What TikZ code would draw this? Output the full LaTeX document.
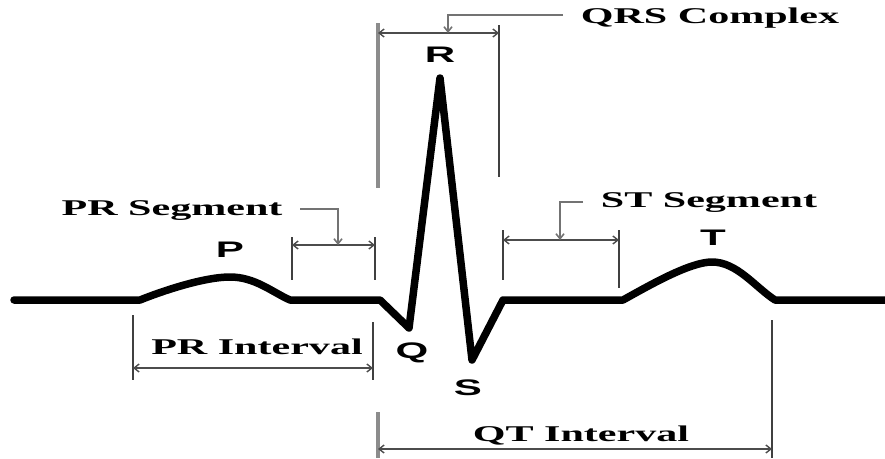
\documentclass[tikz,border=0pt]{standalone}
\usepackage{fontspec}
\usepackage{graphicx}
\setmainfont{Liberation Serif}
\newfontfamily\lettersf{Liberation Sans}
\usetikzlibrary{arrows.meta}
\newcommand\widetxt[1]{\scalebox{1.87}[1]{#1}}
\tikzset{
  x=1pt, y=-1pt,
  trace/.style={line width=7.5pt, line join=round, line cap=round, black},
  extline/.style={line width=2.6pt, black!75},
  greyext/.style={line width=4pt, black!45},
  dimline/.style={line width=1.4pt, black!70, {Straight Barb[length=5pt,width=8pt]}-{Straight Barb[length=5pt,width=8pt]}},
  pointer/.style={line width=1.6pt, black!55, -{Straight Barb[length=5pt,width=8pt]}},
  lbl/.style={inner sep=0pt, font=\fontsize{22.5}{24}\selectfont\bfseries},
  wave/.style={inner sep=0pt, font=\fontsize{22.5}{24}\selectfont\lettersf\bfseries}
}
\begin{document}
\begin{tikzpicture}
\useasboundingbox (0,0) rectangle (885,458);
% ECG trace
\draw[trace] (14,300) -- (140,300)
  .. controls (165,290) and (205,277) .. (230,277)
  .. controls (255,277) and (272,292) .. (290,300)
  -- (380,300) -- (409,328) -- (440,78) -- (472,360) -- (503,300) -- (623,300)
  .. controls (650,285) and (690,262) .. (712,262)
  .. controls (737,262) and (755,287) .. (775,300) -- (885,300);
% dimension end points
\coordinate (qrsL) at (378,33);
\coordinate (qrsR) at (499,33);
\coordinate (prsL) at (292,245);
\coordinate (prsR) at (375,245);
\coordinate (stL) at (503,240);
\coordinate (stR) at (619,240);
\coordinate (priL) at (133,368);
\coordinate (priR) at (373,368);
\coordinate (qtL) at (378,449);
\coordinate (qtR) at (772,449);
% extension lines
\draw[greyext] (378,23) -- (378,188);
\draw[extline, line width=2pt] (499,25) -- (499,177);
\draw[extline] (292,237) -- (292,280);
\draw[extline] (375,237) -- (375,280);
\draw[extline] (503,230) -- (503,280);
\draw[extline] (619,230) -- (619,288);
\draw[extline] (133,315) -- (133,380);
\draw[extline] (373,322) -- (373,380);
\draw[greyext] (378,412) -- (378,458);
\draw[extline] (772,320) -- (772,458);
% dimension lines
\draw[dimline] (qrsL) -- (qrsR);
\draw[dimline] (prsL) -- (prsR);
\draw[dimline] (stL) -- (stR);
\draw[dimline] (priL) -- (priR);
\draw[dimline] (qtL) -- (qtR);
% labels
\node[lbl] (qrs) at (710,18) {\widetxt{QRS Complex}};
\node[lbl] (prseg) at (172,211) {\widetxt{PR Segment}};
\node[lbl] (stseg) at (709,203) {\widetxt{ST Segment}};
\node[lbl] (print) at (257,347) {\widetxt{PR Interval}};
\node[lbl] (qtint) at (581,436) {\widetxt{QT Interval}};
% pointers
\draw[pointer] (563,15) -| (448,33);
\draw[pointer] (300,209) -| (338,245);
\draw[pointer] (583,202) -| (560,240);
% wave letters
\node[wave] (R) at (440,55) {\widetxt{R}};
\node[wave] (P) at (230,250) {\widetxt{P}};
\node[wave] (T) at (713,238) {\widetxt{T}};
\node[wave] (Q) at (412,353) {\widetxt{Q}};
\node[wave] (S) at (468,388) {\widetxt{S}};
\end{tikzpicture}
\end{document}
